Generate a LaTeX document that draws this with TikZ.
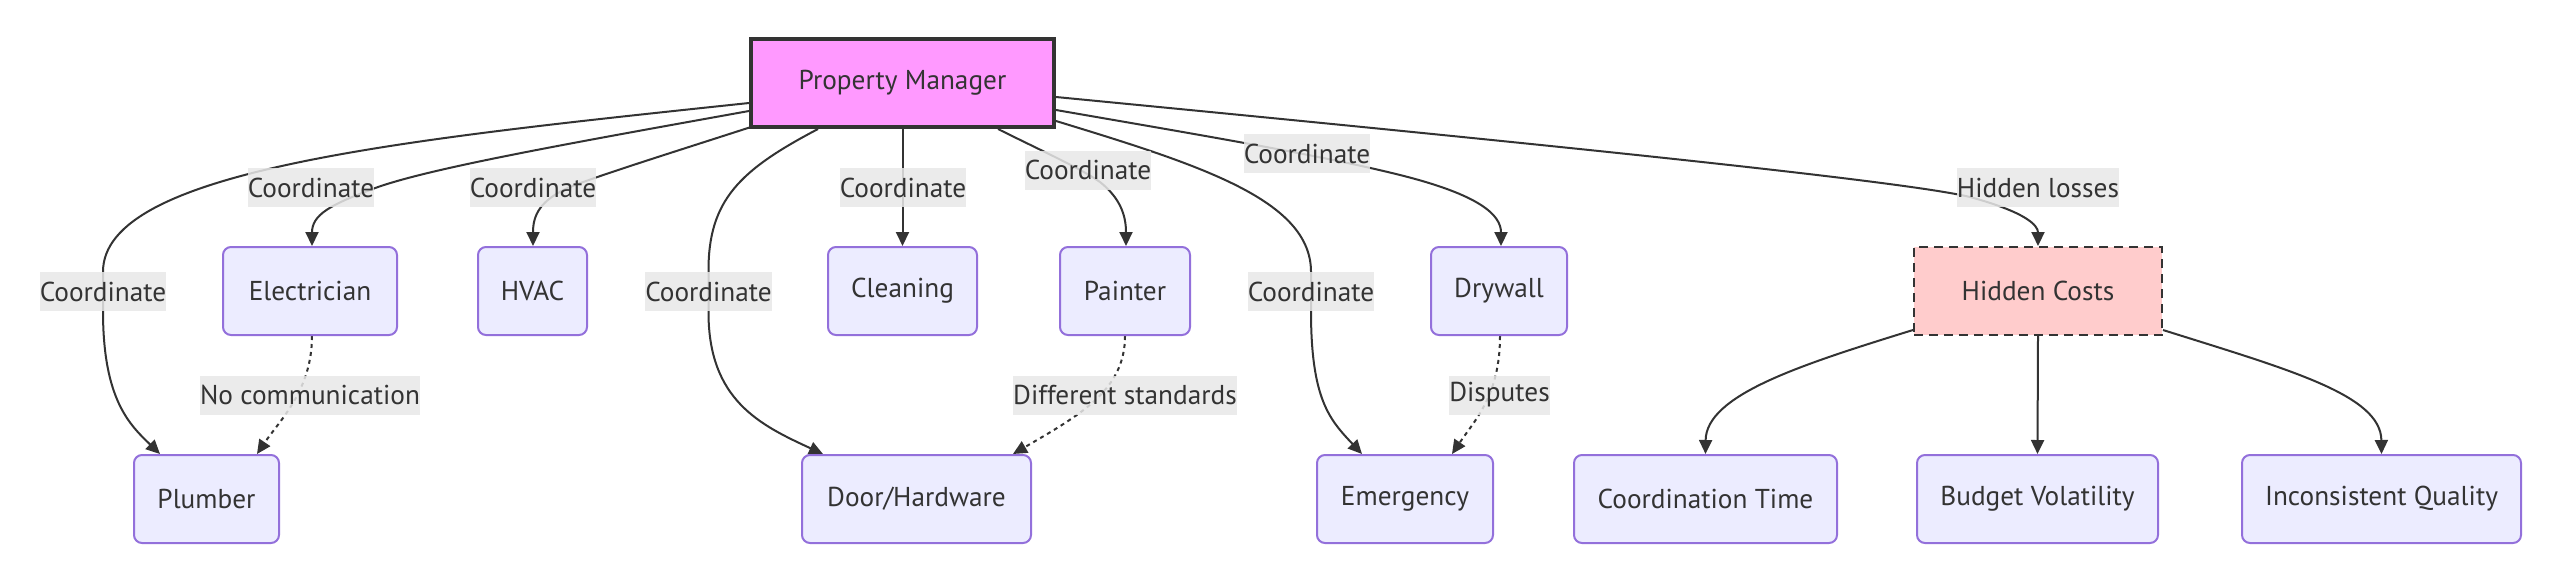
\documentclass[tikz,border=0pt]{standalone}
\usepackage{fontspec}
\setmainfont{PT Sans}
\usetikzlibrary{arrows.meta,calc}
\definecolor{nodefill}{HTML}{ECECFF}
\definecolor{nodeline}{HTML}{9370DB}
\definecolor{ink}{HTML}{333333}
\definecolor{lblbg}{HTML}{E8E8E8}
\definecolor{pmfill}{HTML}{FF99FF}
\definecolor{hcfill}{HTML}{FFCCCC}
\pgfdeclarelayer{bg}
\pgfsetlayers{bg,main}
\begin{document}
\begin{tikzpicture}[x=1pt,y=-1pt,
  font=\fontsize{27.3}{32}\selectfont,
  box/.style={draw=nodeline, fill=nodefill, line width=2pt, rounded corners=8pt,
    minimum height=88pt, inner sep=0pt, text=ink},
  pmbox/.style={draw=ink, fill=pmfill, line width=4pt, minimum width=303pt,
    minimum height=88pt, inner sep=0pt, text=ink},
  hcbox/.style={draw=ink, fill=hcfill, line width=2pt, dash pattern=on 9pt off 6pt,
    minimum width=248pt, minimum height=88pt, inner sep=0pt, text=ink},
  lbl/.style={fill=lblbg, fill opacity=0.85, text opacity=1, text=ink,
    inner xsep=0pt, inner ysep=0pt, minimum height=39pt},
  link/.style={draw=ink, line width=2pt, -{Triangle[length=14pt,width=13pt]}},
  dotlink/.style={link, dash pattern=on 4pt off 4pt}]
\useasboundingbox (0,0) rectangle (2560,582);
% nodes
\node[pmbox] (pm) at (902.5,83) {Property Manager};
\node[box, minimum width=174pt] (el) at (310,291) {Electrician};
\node[box, minimum width=109pt] (hv) at (532.5,291) {HVAC};
\node[box, minimum width=149pt] (cl) at (902.5,291) {Cleaning};
\node[box, minimum width=130pt] (pa) at (1125,291) {Painter};
\node[box, minimum width=136pt] (dw) at (1499,291) {Drywall};
\node[hcbox] (hc) at (2038,291) {Hidden Costs};
\node[box, minimum width=145pt] (pl) at (206.5,499) {Plumber};
\node[box, minimum width=229pt] (dh) at (916.5,499) {Door/Hardware};
\node[box, minimum width=176pt] (em) at (1405,499) {Emergency};
\node[box, minimum width=263pt] (ct) at (1705.5,499) {Coordination Time};
\node[box, minimum width=241pt] (bv) at (2037.5,499) {Budget Volatility};
\node[box, minimum width=279pt] (iq) at (2381.5,499) {Inconsistent Quality};
% labels
\node[lbl] (lpl) at (103,291.5) {Coordinate};
\node[lbl] (lel) at (311,187.5) {Coordinate};
\node[lbl] (lhv) at (533,187.5) {Coordinate};
\node[lbl] (ldh) at (708.5,291.5) {Coordinate};
\node[lbl] (lcl) at (903,187.5) {Coordinate};
\node[lbl] (lpa) at (1088,170) {Coordinate};
\node[lbl] (lem) at (1311,291.5) {Coordinate};
\node[lbl] (ldw) at (1307,153.5) {Coordinate};
\node[lbl] (lhc) at (2038,187.5) {Hidden losses};
\node[lbl] (lnc) at (310,395) {No communication};
\node[lbl] (lds) at (1125,395) {Different standards};
\node[lbl] (ldp) at (1499.5,395) {Disputes};
% edges
\begin{pgfonlayer}{bg}
\draw[link] ($(pm.west)+(0,20)$) .. controls (400,140) and (103,170) .. (lpl.north)
  -- (lpl.south) .. controls (103,400) and (130,425) .. ($(pl.north)+(-46.5,0)$);
\draw[link] ($(pm.west)+(0,28)$) .. controls (560,145) and (420,170) .. (370,190)
  .. controls (330,205) and (312,215) .. ($(el.north)+(2,0)$);
\draw[link] ($(pm.south west)+(2,-2)$) .. controls (680,150) and (600,175) .. (570,187)
  .. controls (540,200) and (533,215) .. ($(hv.north)+(0.5,0)$);
\draw[link] ($(pm.south)+(-84.5,0)$) .. controls (740,170) and (708,200) .. (ldh.north)
  -- (ldh.south) .. controls (708,400) and (760,425) .. ($(dh.north)+(-93.5,0)$);
\draw[link] (pm.south) -- (cl.north);
\draw[link] ($(pm.south)+(95.5,0)$) .. controls (1040,150) and (1080,168) .. (1100,182)
  .. controls (1120,198) and (1126,215) .. ($(pa.north)+(1,0)$);
\draw[link] ($(pm.east)+(0,38)$) .. controls (1200,165) and (1311,200) .. (lem.north)
  -- (lem.south) .. controls (1311,400) and (1330,420) .. ($(em.north)+(-43,0)$);
\draw[link] ($(pm.east)+(0,27)$) .. controls (1200,135) and (1320,155) .. (1400,175)
  .. controls (1480,195) and (1501,215) .. ($(dw.north)+(2,0)$);
\draw[link] ($(pm.east)+(0,14)$) .. controls (1500,140) and (1900,180) .. (1970,197)
  .. controls (2025,212) and (2038,225) .. (hc.north);
\draw[dotlink] ($(el.south)+(2,0)$) .. controls (312,390) and (280,420) .. ($(pl.north)+(50.5,0)$);
\draw[dotlink] (pa.south) .. controls (1125,390) and (1080,415) .. ($(dh.north)+(96.5,0)$);
\draw[dotlink] ($(dw.south)+(1,0)$) .. controls (1500,395) and (1475,420) .. ($(em.north)+(47,0)$);
\draw[link] ($(hc.west)+(0,39)$) .. controls (1800,365) and (1706,395) .. (ct.north);
\draw[link] (hc.south) -- (bv.north);
\draw[link] ($(hc.east)+(0,39)$) .. controls (2290,370) and (2381,395) .. (iq.north);
\end{pgfonlayer}
\end{tikzpicture}
\end{document}
